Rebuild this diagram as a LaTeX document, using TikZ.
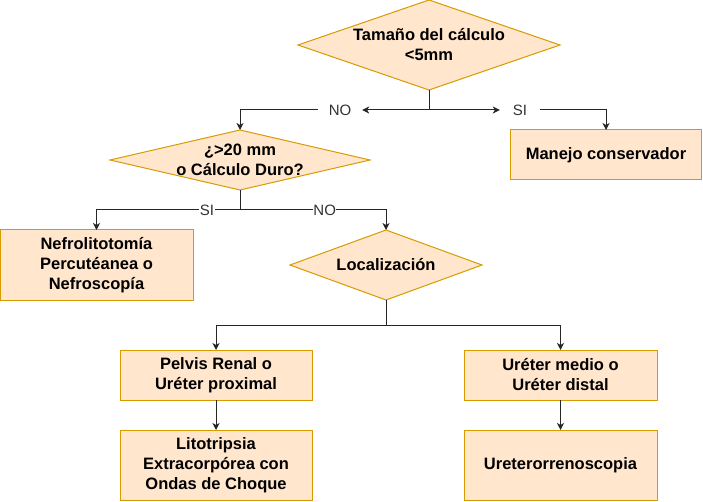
\documentclass[tikz,border=0pt]{standalone}
\usepackage{fontspec}
\setmainfont{Liberation Sans}
\usetikzlibrary{shapes.geometric,arrows.meta}
\definecolor{boxfill}{HTML}{FFE6CC}
\definecolor{boxline}{HTML}{D79B00}
\definecolor{lblcol}{HTML}{333333}
\begin{document}
\begin{tikzpicture}[x=1pt,y=-1pt,
  txt/.style={font=\fontsize{16.5}{20}\selectfont\bfseries, align=center, text=black, inner sep=0},
  boxn/.style={draw=boxline, fill=boxfill, line width=1pt, outer sep=0, inner sep=0, txt},
  dia/.style={diamond, draw=boxline, fill=boxfill, line width=1pt, outer sep=0, inner sep=0},
  lab/.style={font=\fontsize{15}{18}\selectfont, text=lblcol, inner sep=1pt},
  arr/.style={draw=black!85, line width=1pt, -{Stealth[length=7pt,width=7pt,inset=2pt]}},
  ln/.style={draw=black!85, line width=1pt}]
\useasboundingbox (0,0) rectangle (703,502);

% decisions
\node[dia, minimum width=262, minimum height=90,
  label={[txt]center:Tamaño del cálculo\\<5mm}] (d1) at (429,45) {};
\node[dia, minimum width=260, minimum height=60,
  label={[txt]center:¿>20 mm\\o Cálculo Duro?}] (d2) at (240,160) {};
\node[dia, minimum width=192, minimum height=70,
  label={[txt]center:Localización}] (d3) at (386,265) {};

% boxes
\node[boxn, minimum width=191, minimum height=50] (b1) at (606,155) {Manejo conservador};
\node[boxn, minimum width=193, minimum height=70] (b2) at (96.5,265) {Nefrolitotomía\\Percutéanea o\\Nefroscopía};
\node[boxn, minimum width=192, minimum height=50] (b4) at (216,375) {Pelvis Renal o\\Uréter proximal};
\node[boxn, minimum width=193, minimum height=50] (b5) at (560.5,375) {Uréter medio o\\Uréter distal};
\node[boxn, minimum width=192, minimum height=70] (b6) at (216,465) {Litotripsia\\Extracorpórea con\\Ondas de Choque};
\node[boxn, minimum width=193, minimum height=70] (b7) at (560.5,465) {Ureterorrenoscopia};

% top labels as text nodes
\node[lab, minimum width=44] (lNO) at (340,110) {NO};
\node[lab, minimum width=40] (lSI) at (520,110) {SI};

\coordinate (j1) at (429,110);
\coordinate (j2) at (240,210);
\coordinate (j3) at (386,325.7);

% connectors
\draw[arr] (d1.south) -- (j1) -- (lNO.east);
\draw[arr] (j1) -- (lSI.west);
\draw[arr] (lNO.west) -| (d2.north);
\draw[arr] (lSI.east) -| (b1.north);

\draw[ln] (d2.south) -- (j2);
\draw[arr] (j2) -| (b2.north) node[lab, fill=white, inner sep=0.5pt, pos=0.115] {SI};
\draw[arr] (j2) -| (d3.north) node[lab, fill=white, inner sep=0.5pt, pos=0.29] {NO};

\draw[ln] (d3.south) -- (j3);
\draw[arr] (j3) -| (b4.north);
\draw[arr] (j3) -| (b5.north);

\draw[arr] (b4.south) -- (b6.north);
\draw[arr] (b5.south) -- (b7.north);
\end{tikzpicture}
\end{document}
